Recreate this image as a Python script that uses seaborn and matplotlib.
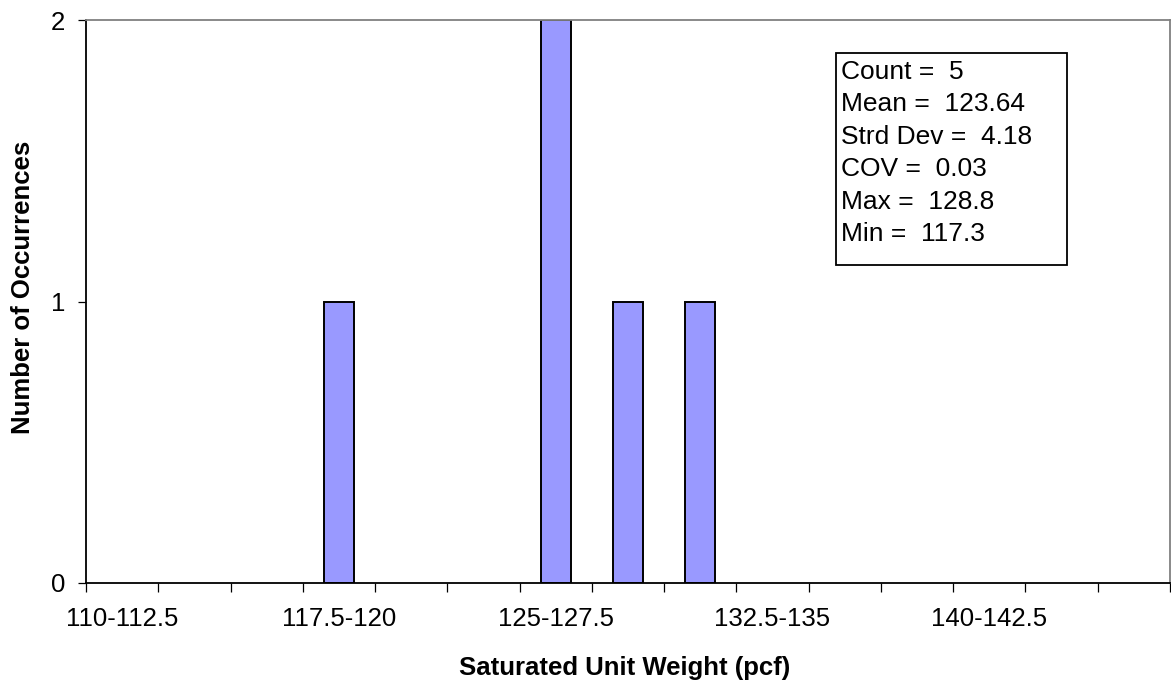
import numpy as np
import matplotlib.pyplot as plt
import matplotlib.patches as mpatches
import pandas as pd
import seaborn as sns

# bins (pcf) and counts
bins = ["110-112.5", "112.5-115", "115-117.5", "117.5-120", "120-122.5",
        "122.5-125", "125-127.5", "127.5-130", "130-132.5", "132.5-135",
        "135-137.5", "137.5-140", "140-142.5", "142.5-145", "145-147.5"]
counts = [0, 0, 0, 1, 0, 0, 2, 1, 1, 0, 0, 0, 0, 0, 0]
stats_lines = ["Count =  5", "Mean =  123.64", "Strd Dev =  4.18",
               "COV =  0.03", "Max =  128.8", "Min =  117.3"]

sns.set_style("white")
plt.rcParams['font.family'] = ['Liberation Sans', 'DejaVu Sans']
plt.rcParams['text.color'] = 'black'
plt.rcParams['xtick.color'] = 'black'
plt.rcParams['ytick.color'] = 'black'
plt.rcParams['axes.labelcolor'] = 'black'

df = pd.DataFrame({"bin": bins, "count": counts})

fig = plt.figure(figsize=(11.71, 6.86), dpi=100)
ax = fig.add_axes([86/1171, 1 - 583/686, 1084/1171, 563/686])

sns.barplot(data=df, x="bin", y="count", order=bins, color="#9999FF",
            saturation=1, width=0.415, edgecolor="black", linewidth=1.4, ax=ax)

# hide empty bins (no flat outlines on the axis)
for p in ax.patches:
    if p.get_height() == 0:
        p.set_visible(False)

ax.set_xlim(-0.5, len(bins) - 0.5)
ax.set_ylim(0, 2)

# x ticks: labels every third bin, tick marks on bin boundaries
ax.set_xticks(range(0, len(bins), 3))
ax.set_xticklabels(bins[::3], fontsize=18.5)
ax.set_xticks(np.arange(-0.5, len(bins), 1), minor=True)
ax.tick_params(axis="x", which="major", length=0, pad=17)
ax.tick_params(axis="x", which="minor", length=6.5, width=0.9,
               direction="out", bottom=True)

ax.set_yticks([0, 1, 2])
ax.set_yticklabels(["0", "1", "2"], fontsize=18.5)
ax.tick_params(axis="y", which="major", length=6, width=0.9,
               direction="out", left=True, pad=9)

ax.set_xlabel("Saturated Unit Weight (pcf)", fontsize=18.5, fontweight="bold",
              va="center")
ax.xaxis.set_label_coords(0.497, -0.151)
ax.set_ylabel("Number of Occurrences", fontsize=18.5, fontweight="bold",
              va="center")
ax.yaxis.set_label_coords(-0.058, 0.525)

for side in ["left", "bottom"]:
    ax.spines[side].set_color("black")
    ax.spines[side].set_linewidth(1.3)
for side in ["top", "right"]:
    ax.spines[side].set_color("#808080")
    ax.spines[side].set_linewidth(1.3)

# stats box
box = mpatches.Rectangle((0.692, 0.565), 0.213, 0.3766, transform=ax.transAxes,
                         facecolor="white", edgecolor="black", linewidth=1.3,
                         zorder=5)
ax.add_patch(box)
for i, line in enumerate(stats_lines):
    ax.text(0.6965, 0.8952 - i * 0.0577, line, transform=ax.transAxes,
            fontsize=19, va="baseline", ha="left", zorder=6)

fig.savefig("out.png", dpi=100)
